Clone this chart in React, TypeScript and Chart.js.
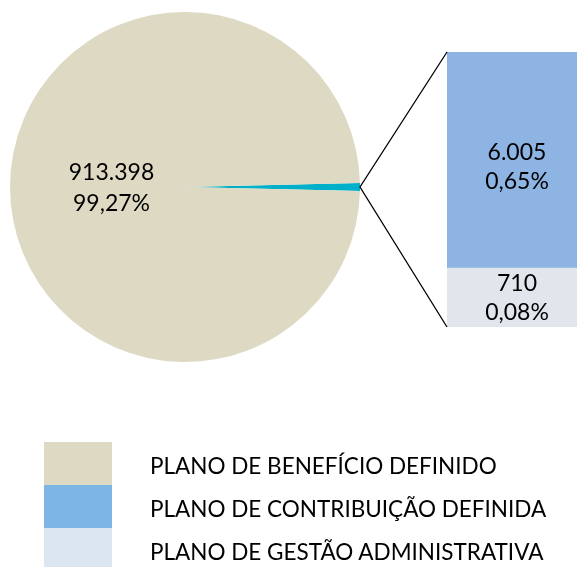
import React, { useEffect, useRef } from "react";
import { Chart, registerables } from "chart.js";

Chart.register(...registerables);

// ---- data ----
const categories = [
  "PLANO DE BENEFÍCIO DEFINIDO",
  "PLANO DE CONTRIBUIÇÃO DEFINIDA",
  "PLANO DE GESTÃO ADMINISTRATIVA",
];
const values = [913398, 6005, 710];
const pieColors = ["#DDD9C3", "#00AFC9"];
const barColors = ["#8DB4E2", "#E0E6EC"];
const legendColors = ["#DDD9C3", "#7DB5E6", "#DBE6F1"];

const FONT = "Lato, 'Open Sans', sans-serif";
const FONT_SIZE = 23;
const LEGEND_FONT_SIZE = 22.5;

const total = values.reduce((a, b) => a + b, 0);
const fmtNum = (v: number) => String(v).replace(/\B(?=(\d{3})+(?!\d))/g, ".");
const fmtPct = (v: number) => ((v / total) * 100).toFixed(2).replace(".", ",") + "%";

const otherTotal = values[1] + values[2];

export default function App() {
  const pieRef = useRef<HTMLCanvasElement>(null);
  const barRef = useRef<HTMLCanvasElement>(null);
  const overlayRef = useRef<HTMLCanvasElement>(null);

  useEffect(() => {
    const cyanDeg = (otherTotal / total) * 360;
    const pieLabelPlugin = {
      id: "pieLabels",
      afterDatasetsDraw(chart: any) {
        const ctx = chart.ctx;
        const meta = chart.getDatasetMeta(0);
        const arc = meta.data[1];
        const p = arc.getProps(["x", "y", "startAngle", "endAngle", "outerRadius"], true);
        const mid = (p.startAngle + p.endAngle) / 2;
        const cx = p.x + Math.cos(mid) * p.outerRadius * 0.42;
        const cy = p.y + Math.sin(mid) * p.outerRadius * 0.42;
        ctx.save();
        ctx.fillStyle = "#000";
        ctx.font = `${FONT_SIZE}px ${FONT}`;
        ctx.textAlign = "center";
        ctx.textBaseline = "middle";
        ctx.fillText(fmtNum(values[0]), cx, cy - 14);
        ctx.fillText(fmtPct(values[0]), cx, cy + 17);
        ctx.restore();
      },
    };
    const pie = new Chart(pieRef.current!, {
      type: "pie",
      data: {
        labels: ["OUTROS", categories[0]],
        datasets: [
          {
            data: [otherTotal, values[0]],
            backgroundColor: [pieColors[1], pieColors[0]],
            borderWidth: 0,
            hoverOffset: 0,
          },
        ],
      },
      options: {
        responsive: false,
        animation: false,
        rotation: 90 - cyanDeg / 2,
        layout: { padding: { left: 10, right: 10, top: 12, bottom: 12 } },
        plugins: { legend: { display: false }, tooltip: { enabled: false } },
      },
      plugins: [pieLabelPlugin],
    });

    const labelShift = [0, 7];
    const barLabelPlugin = {
      id: "barLabels",
      afterDatasetsDraw(chart: any) {
        const ctx = chart.ctx;
        ctx.save();
        ctx.fillStyle = "#000";
        ctx.font = `${FONT_SIZE}px ${FONT}`;
        ctx.textAlign = "center";
        ctx.textBaseline = "middle";
        chart.data.datasets.forEach((ds: any, i: number) => {
          const meta = chart.getDatasetMeta(i);
          meta.data.forEach((el: any, j: number) => {
            const p = el.getProps(["x", "y", "base"], true);
            const cy = (p.y + p.base) / 2 + labelShift[i];
            const v = ds.data[j];
            ctx.fillText(fmtNum(v), p.x, cy - 14);
            ctx.fillText(fmtPct(v), p.x, cy + 15);
          });
        });
        ctx.restore();
      },
    };
    const bar = new Chart(barRef.current!, {
      type: "bar",
      data: {
        labels: [""],
        datasets: [
          { label: categories[2], data: [values[2]], backgroundColor: barColors[1], borderWidth: 0 },
          { label: categories[1], data: [values[1]], backgroundColor: barColors[0], borderWidth: 0 },
        ],
      },
      options: {
        responsive: false,
        animation: false,
        barPercentage: 1,
        categoryPercentage: 1,
        layout: { padding: 0 },
        scales: {
          x: { stacked: true, display: false },
          y: { type: "logarithmic", stacked: true, display: false, min: 385, max: otherTotal },
        },
        plugins: { legend: { display: false }, tooltip: { enabled: false } },
      },
      plugins: [barLabelPlugin],
    });

    // connector lines
    const ov = overlayRef.current!;
    const octx = ov.getContext("2d")!;
    octx.clearRect(0, 0, ov.width, ov.height);
    const arc = pie.getDatasetMeta(0).data[0] as any;
    const ap = arc.getProps(["x", "y", "startAngle", "endAngle", "outerRadius"], true);
    const mid = (ap.startAngle + ap.endAngle) / 2;
    const pieRect = pieRef.current!.getBoundingClientRect();
    const barRect = barRef.current!.getBoundingClientRect();
    const ovRect = ov.getBoundingClientRect();
    const sx = pieRect.left - ovRect.left + ap.x + Math.cos(mid) * ap.outerRadius;
    const sy = pieRect.top - ovRect.top + ap.y + Math.sin(mid) * ap.outerRadius;
    const topEl = bar.getDatasetMeta(1).data[0] as any;
    const botEl = bar.getDatasetMeta(0).data[0] as any;
    const tp = topEl.getProps(["x", "y", "width"], true);
    const bp = botEl.getProps(["x", "base", "width"], true);
    const bx = barRect.left - ovRect.left + tp.x - tp.width / 2;
    const ty = barRect.top - ovRect.top + tp.y;
    const by = barRect.top - ovRect.top + bp.base;
    octx.strokeStyle = "#000";
    octx.lineWidth = 1.3;
    octx.beginPath();
    octx.moveTo(bx, ty);
    octx.lineTo(sx, sy);
    octx.lineTo(bx, by);
    octx.stroke();

    return () => {
      pie.destroy();
      bar.destroy();
    };
  }, []);

  return (
    <div
      style={{
        position: "absolute",
        left: 0,
        top: 0,
        width: 577,
        height: 567,
        overflow: "hidden",
        background: "#fff",
        fontFamily: FONT,
      }}
    >
      <canvas ref={pieRef} width={370} height={374} style={{ position: "absolute", left: 0, top: 0 }} />
      <canvas ref={barRef} width={140} height={275} style={{ position: "absolute", left: 447, top: 52 }} />
      <canvas
        ref={overlayRef}
        width={577}
        height={567}
        style={{ position: "absolute", left: 0, top: 0, pointerEvents: "none" }}
      />
      {categories.map((c, i) => (
        <div
          key={c}
          style={{ position: "absolute", left: 44, top: 442 + i * 43, height: 43, display: "flex", alignItems: "center" }}
        >
          <div style={{ width: 68, height: 43, background: legendColors[i] }} />
          <div
            style={{
              marginLeft: 38,
              fontSize: LEGEND_FONT_SIZE,
              color: "#000",
              whiteSpace: "nowrap",
              position: "relative",
              top: 2,
            }}
          >
            {c}
          </div>
        </div>
      ))}
    </div>
  );
}
